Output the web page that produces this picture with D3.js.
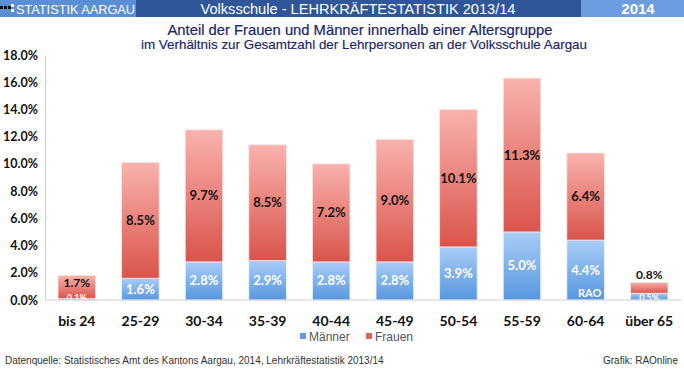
<!DOCTYPE html>
<html lang="de">
<head>
    <meta charset="UTF-8">
    <title>Lehrkräftestatistik 2013/14</title>
    <script src="https://d3js.org/d3.v7.min.js"></script>
    <style>
        body { margin: 0; background: #fff; }
        svg { display: block; }
    </style>
</head>
<body>
<div id="chart"></div>
<script>
    // data
    const categories = ["bis 24", "25-29", "30-34", "35-39", "40-44", "45-49", "50-54", "55-59", "60-64", "über 65"];
    const maenner = [0.1, 1.6, 2.8, 2.9, 2.8, 2.8, 3.9, 5.0, 4.4, 0.5];
    const frauen = [1.7, 8.5, 9.7, 8.5, 7.2, 9.0, 10.1, 11.3, 6.4, 0.8];
    const yTicks = [0, 2, 4, 6, 8, 10, 12, 14, 16, 18];

    const width = 684, height = 373;
    const plot = { left: 45, right: 681, top: 55, bottom: 300 };

    const svg = d3.select("#chart").append("svg")
        .attr("width", width)
        .attr("height", height)
        .style("font-family", "'Liberation Sans', Arial, sans-serif");

    // gradients
    const defs = svg.append("defs");
    function grad(id, top, bottom) {
        const g = defs.append("linearGradient").attr("id", id)
            .attr("x1", 0).attr("y1", 0).attr("x2", 0).attr("y2", 1);
        g.append("stop").attr("offset", "0%").attr("stop-color", top);
        g.append("stop").attr("offset", "100%").attr("stop-color", bottom);
    }
    grad("gF", "#f9b2ad", "#d9544a");
    grad("gM", "#a9cdf7", "#5797df");

    // header bar
    svg.append("rect").attr("x", 0).attr("y", 0).attr("width", 136).attr("height", 17).attr("fill", "#5b8fd5");
    svg.append("rect").attr("x", 136).attr("y", 0).attr("width", 445).attr("height", 17).attr("fill", "#2e5699");
    svg.append("rect").attr("x", 581).attr("y", 0).attr("width", 103).attr("height", 17).attr("fill", "#6b9de0");
    // little logo squares
    [[0, 6], [4, 6], [8, 6], [11, 4], [11, 9]].forEach(p => {
        svg.append("rect").attr("x", p[0]).attr("y", p[1]).attr("width", 3).attr("height", 3)
            .attr("fill", p[0] < 10 ? "#111" : "#fff");
    });
    svg.append("text").attr("x", 16).attr("y", 13.5).attr("fill", "#fff")
        .attr("font-size", 13).attr("textLength", 119).attr("lengthAdjust", "spacingAndGlyphs")
        .text("STATISTIK AARGAU");
    svg.append("text").attr("x", 358).attr("y", 13.5).attr("fill", "#fff").attr("text-anchor", "middle")
        .attr("font-size", 14).attr("textLength", 315).attr("lengthAdjust", "spacingAndGlyphs")
        .text("Volksschule - LEHRKRÄFTESTATISTIK 2013/14");
    svg.append("text").attr("x", 638).attr("y", 14).attr("fill", "#fff").attr("text-anchor", "middle")
        .attr("font-size", 15).attr("font-weight", "bold")
        .text("2014");

    // titles
    svg.append("text").attr("x", 360).attr("y", 35).attr("fill", "#18256a").attr("text-anchor", "middle")
        .attr("font-size", 15).attr("textLength", 385).attr("lengthAdjust", "spacingAndGlyphs")
        .attr("stroke", "#18256a").attr("stroke-width", 0.2)
        .text("Anteil der Frauen und Männer innerhalb einer Altersgruppe");
    svg.append("text").attr("x", 364).attr("y", 49).attr("fill", "#18256a").attr("text-anchor", "middle")
        .attr("font-size", 13).attr("textLength", 446).attr("lengthAdjust", "spacingAndGlyphs")
        .attr("stroke", "#18256a").attr("stroke-width", 0.15)
        .text("im Verhältnis zur Gesamtzahl der Lehrpersonen an der Volksschule Aargau");

    // scales
    const x = d3.scaleBand().domain(categories).range([plot.left, plot.right]).paddingInner(0.41).paddingOuter(0.205);
    const y = d3.scaleLinear().domain([0, 18]).range([plot.bottom, plot.top]);

    // y axis
    const yAxis = svg.append("g")
        .attr("transform", `translate(${plot.left},0)`)
        .call(d3.axisLeft(y).tickValues(yTicks).tickSize(0).tickPadding(7).tickFormat(d => d.toFixed(1) + "%"));
    yAxis.select(".domain").attr("stroke", "#d0d0d0");
    yAxis.selectAll("text").attr("font-family", "Lato, sans-serif").attr("font-weight", "bold")
        .attr("font-size", 12.5).attr("fill", "#111");

    // bars
    const rows = categories.map((c, i) => ({ cat: c, m: maenner[i], f: frauen[i] }));
    const g = svg.append("g");
    g.selectAll(".m").data(rows).join("rect")
        .attr("x", d => x(d.cat)).attr("width", x.bandwidth())
        .attr("y", d => y(d.m)).attr("height", d => y(0) - y(d.m))
        .attr("fill", "url(#gM)").attr("stroke", "#eaf2fc").attr("stroke-width", 0.8);
    g.selectAll(".f").data(rows).join("rect")
        .attr("x", d => x(d.cat)).attr("width", x.bandwidth())
        .attr("y", d => y(d.m + d.f)).attr("height", d => y(d.m) - y(d.m + d.f))
        .attr("fill", "url(#gF)").attr("stroke", "#fbe3e1").attr("stroke-width", 0.8);

    // baseline
    svg.append("line").attr("x1", plot.left).attr("x2", plot.right).attr("y1", y(0)).attr("y2", y(0))
        .attr("stroke", "#d0d0d0");

    // value labels
    const small = d => d.m < 1;
    g.selectAll(".fl").data(rows).join("text")
        .attr("x", d => x(d.cat) + x.bandwidth() / 2)
        .attr("y", d => d.cat === "über 65" ? y(d.m + d.f) - 3 : (small(d) ? y(d.m + d.f / 2) : y(d.m + d.f / 2) + 4.5))
        .attr("text-anchor", "middle").attr("font-family", "Lato, sans-serif").attr("font-weight", "bold")
        .attr("font-size", d => small(d) ? 12 : 13).attr("fill", "#111")
        .text(d => d.f.toFixed(1) + "%");
    g.selectAll(".ml").data(rows).join("text")
        .attr("x", d => x(d.cat) + x.bandwidth() / 2)
        .attr("y", d => small(d) ? y(0) + 0.5 : y(d.m / 2) + 4.5)
        .attr("text-anchor", "middle").attr("font-family", "Lato, sans-serif").attr("font-weight", "bold")
        .attr("font-size", d => small(d) ? 9 : 13).attr("fill", "#fff")
        .text(d => d.m.toFixed(1) + "%");
    g.append("text")
        .attr("x", x("60-64") + x.bandwidth() / 2 + 4).attr("y", y(0) - 3)
        .attr("text-anchor", "middle").attr("font-family", "Lato, sans-serif").attr("font-weight", "bold")
        .attr("font-size", 11).attr("fill", "#fff").text("RAO");

    // x labels
    svg.append("g").attr("transform", `translate(0,${plot.bottom})`)
        .call(d3.axisBottom(x).tickSize(0).tickPadding(16))
        .call(a => a.select(".domain").remove())
        .selectAll("text").attr("font-family", "Lato, sans-serif").attr("font-weight", "bold")
        .attr("font-size", 14).attr("fill", "#111");

    // legend
    const legend = [["Männer", "#5d9ae0"], ["Frauen", "#e0625a"]];
    const lg = svg.append("g").attr("transform", "translate(300,341)");
    legend.forEach((l, i) => {
        const ox = i * 66;
        lg.append("rect").attr("x", ox).attr("y", -8).attr("width", 6).attr("height", 6).attr("fill", l[1]);
        lg.append("text").attr("x", ox + 9).attr("y", 0).attr("font-size", 12).attr("fill", "#555").text(l[0]);
    });

    // footer
    svg.append("text").attr("x", 5).attr("y", 364).attr("font-size", 10).attr("fill", "#333")
        .text("Datenquelle: Statistisches Amt des Kantons Aargau, 2014, Lehrkräftestatistik 2013/14");
    svg.append("text").attr("x", 678).attr("y", 364).attr("text-anchor", "end").attr("font-size", 10).attr("fill", "#333")
        .text("Grafik: RAOnline");
</script>
</body>
</html>
